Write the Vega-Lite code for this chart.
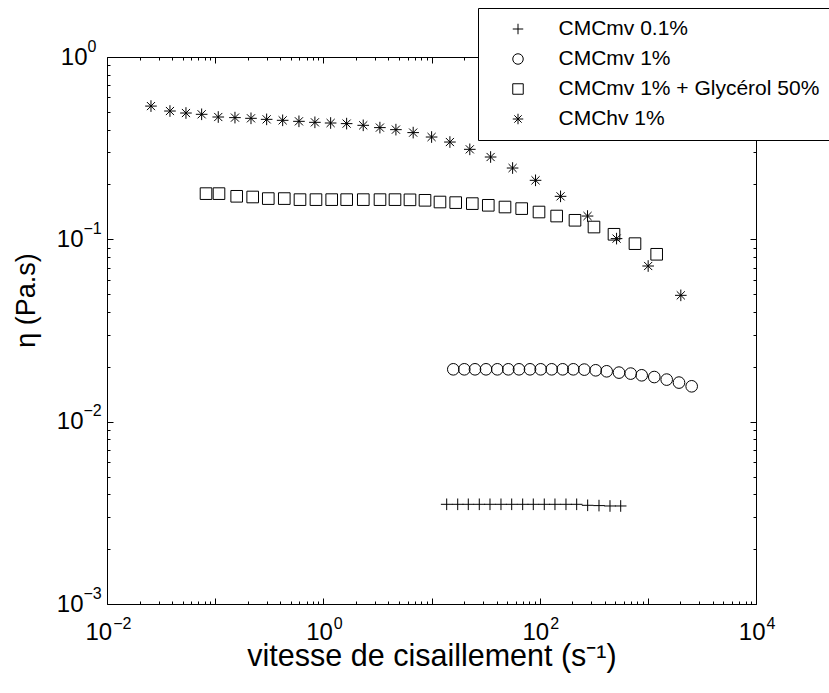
{
"$schema":"https://vega.github.io/schema/vega-lite/v6.json",
"width":649,"height":547,
"autosize":{"type":"none"},
"padding":{"left":107,"top":57,"right":73,"bottom":89},
"background":"white",
"config":{"font":"Liberation Sans","view":{"stroke":"black","strokeWidth":1},
 "axis":{"grid":false,"domain":false,"labelColor":"black","tickColor":"black","tickWidth":1,"titleColor":"black","labelFlush":false,"labelOverlap":false,"labelBound":false,"labelFontWeight":"normal","titleFontWeight":"normal"}},
"data":{"values":[
{"serie":"CMCmv 0.1%","x":13.82,"eta":0.003522},{"serie":"CMCmv 0.1%","x":17.47,"eta":0.003522},{"serie":"CMCmv 0.1%","x":21.88,"eta":0.003522},{"serie":"CMCmv 0.1%","x":27.66,"eta":0.003522},{"serie":"CMCmv 0.1%","x":34.73,"eta":0.003522},{"serie":"CMCmv 0.1%","x":43.89,"eta":0.003522},{"serie":"CMCmv 0.1%","x":55.13,"eta":0.003522},{"serie":"CMCmv 0.1%","x":69.66,"eta":0.003522},{"serie":"CMCmv 0.1%","x":87.3,"eta":0.003522},{"serie":"CMCmv 0.1%","x":110.3,"eta":0.003522},{"serie":"CMCmv 0.1%","x":138.5,"eta":0.003522},{"serie":"CMCmv 0.1%","x":175.1,"eta":0.003522},{"serie":"CMCmv 0.1%","x":219.9,"eta":0.003522},{"serie":"CMCmv 0.1%","x":277.8,"eta":0.003478},{"serie":"CMCmv 0.1%","x":353.6,"eta":0.003465},{"serie":"CMCmv 0.1%","x":446.8,"eta":0.003448},{"serie":"CMCmv 0.1%","x":561.1,"eta":0.003448},
{"serie":"CMCmv 1%","x":15.9,"eta":0.01937},{"serie":"CMCmv 1%","x":20.1,"eta":0.01937},{"serie":"CMCmv 1%","x":25.24,"eta":0.01937},{"serie":"CMCmv 1%","x":31.9,"eta":0.01937},{"serie":"CMCmv 1%","x":40.6,"eta":0.01937},{"serie":"CMCmv 1%","x":51.3,"eta":0.01937},{"serie":"CMCmv 1%","x":64.4,"eta":0.01937},{"serie":"CMCmv 1%","x":81.4,"eta":0.01937},{"serie":"CMCmv 1%","x":102.2,"eta":0.01937},{"serie":"CMCmv 1%","x":129.2,"eta":0.01937},{"serie":"CMCmv 1%","x":163.2,"eta":0.01937},{"serie":"CMCmv 1%","x":204.6,"eta":0.01937},{"serie":"CMCmv 1%","x":258.5,"eta":0.0193},{"serie":"CMCmv 1%","x":329.6,"eta":0.01913},{"serie":"CMCmv 1%","x":416.5,"eta":0.01889},{"serie":"CMCmv 1%","x":541.2,"eta":0.01858},{"serie":"CMCmv 1%","x":694.2,"eta":0.01835},{"serie":"CMCmv 1%","x":877.6,"eta":0.01796},{"serie":"CMCmv 1%","x":1147,"eta":0.01757},{"serie":"CMCmv 1%","x":1494,"eta":0.01701},{"serie":"CMCmv 1%","x":1941,"eta":0.01638},{"serie":"CMCmv 1%","x":2543,"eta":0.01563},
{"serie":"CMCmv 1% + Glycérol 50%","x":0.0823,"eta":0.1781},{"serie":"CMCmv 1% + Glycérol 50%","x":0.1085,"eta":0.1781},{"serie":"CMCmv 1% + Glycérol 50%","x":0.1581,"eta":0.1722},{"serie":"CMCmv 1% + Glycérol 50%","x":0.2223,"eta":0.1707},{"serie":"CMCmv 1% + Glycérol 50%","x":0.3098,"eta":0.1673},{"serie":"CMCmv 1% + Glycérol 50%","x":0.4355,"eta":0.1673},{"serie":"CMCmv 1% + Glycérol 50%","x":0.6084,"eta":0.1651},{"serie":"CMCmv 1% + Glycérol 50%","x":0.855,"eta":0.1651},{"serie":"CMCmv 1% + Glycérol 50%","x":1.195,"eta":0.1651},{"serie":"CMCmv 1% + Glycérol 50%","x":1.644,"eta":0.1651},{"serie":"CMCmv 1% + Glycérol 50%","x":2.341,"eta":0.1651},{"serie":"CMCmv 1% + Glycérol 50%","x":3.341,"eta":0.1651},{"serie":"CMCmv 1% + Glycérol 50%","x":4.598,"eta":0.1651},{"serie":"CMCmv 1% + Glycérol 50%","x":6.324,"eta":0.1647},{"serie":"CMCmv 1% + Glycérol 50%","x":8.708,"eta":0.1637},{"serie":"CMCmv 1% + Glycérol 50%","x":11.98,"eta":0.1602},{"serie":"CMCmv 1% + Glycérol 50%","x":16.74,"eta":0.159},{"serie":"CMCmv 1% + Glycérol 50%","x":23.84,"eta":0.157},{"serie":"CMCmv 1% + Glycérol 50%","x":33.5,"eta":0.1537},{"serie":"CMCmv 1% + Glycérol 50%","x":47.8,"eta":0.1504},{"serie":"CMCmv 1% + Glycérol 50%","x":68.2,"eta":0.1474},{"serie":"CMCmv 1% + Glycérol 50%","x":98.6,"eta":0.1412},{"serie":"CMCmv 1% + Glycérol 50%","x":143.6,"eta":0.1342},{"serie":"CMCmv 1% + Glycérol 50%","x":212.1,"eta":0.1272},{"serie":"CMCmv 1% + Glycérol 50%","x":317.8,"eta":0.1168},{"serie":"CMCmv 1% + Glycérol 50%","x":486.6,"eta":0.1066},{"serie":"CMCmv 1% + Glycérol 50%","x":760.6,"eta":0.0947},{"serie":"CMCmv 1% + Glycérol 50%","x":1207,"eta":0.0828},
{"serie":"CMChv 1%","x":0.0255,"eta":0.538},{"serie":"CMChv 1%","x":0.0382,"eta":0.5055},{"serie":"CMChv 1%","x":0.0537,"eta":0.4929},{"serie":"CMChv 1%","x":0.075,"eta":0.485},{"serie":"CMChv 1%","x":0.1068,"eta":0.4687},{"serie":"CMChv 1%","x":0.1524,"eta":0.4651},{"serie":"CMChv 1%","x":0.2144,"eta":0.461},{"serie":"CMChv 1%","x":0.2992,"eta":0.455},{"serie":"CMChv 1%","x":0.4207,"eta":0.4495},{"serie":"CMChv 1%","x":0.595,"eta":0.4438},{"serie":"CMChv 1%","x":0.8356,"eta":0.4382},{"serie":"CMChv 1%","x":1.168,"eta":0.4345},{"serie":"CMChv 1%","x":1.642,"eta":0.4312},{"serie":"CMChv 1%","x":2.338,"eta":0.422},{"serie":"CMChv 1%","x":3.334,"eta":0.41},{"serie":"CMChv 1%","x":4.688,"eta":0.3996},{"serie":"CMChv 1%","x":6.77,"eta":0.3849},{"serie":"CMChv 1%","x":10.02,"eta":0.364},{"serie":"CMChv 1%","x":14.8,"eta":0.3417},{"serie":"CMChv 1%","x":22.6,"eta":0.3116},{"serie":"CMChv 1%","x":35.2,"eta":0.2828},{"serie":"CMChv 1%","x":56.2,"eta":0.2461},{"serie":"CMChv 1%","x":91.6,"eta":0.2107},{"serie":"CMChv 1%","x":156,"eta":0.1721},{"serie":"CMChv 1%","x":277,"eta":0.1342},{"serie":"CMChv 1%","x":514,"eta":0.1009},{"serie":"CMChv 1%","x":1007,"eta":0.0714},{"serie":"CMChv 1%","x":2018,"eta":0.0493}
]},
"layer":[
{"mark":{"type":"point","filled":false,"color":"black","strokeWidth":1,"opacity":1,"size":135},
 "encoding":{
  "x":{"field":"x","type":"quantitative","scale":{"type":"log","domain":[0.01,10000],"nice":false},
   "axis":{"orient":"bottom","labels":false,"values":[0.01,0.02,0.03,0.04,0.05,0.06,0.07,0.08,0.09,0.1,0.2,0.3,0.4,0.5,0.6,0.7,0.8,0.9,1,2,3,4,5,6,7,8,9,10,20,30,40,50,60,70,80,90,100,200,300,400,500,600,700,800,900,1000,2000,3000,4000,5000,6000,7000,8000,9000,10000],
    "tickSize":{"condition":{"test":"abs(log(datum.value)/LN10 - round(log(datum.value)/LN10)) < 0.001","value":-6},"value":-3},
    "title":"vitesse de cisaillement (s⁻¹)","titleFontSize":30.5,"titleBaseline":"alphabetic","titleY":61}},
  "y":{"field":"eta","type":"quantitative","scale":{"type":"log","domain":[0.001,1],"nice":false},
   "axis":{"orient":"left","labels":false,"values":[0.001,0.002,0.003,0.004,0.005,0.006,0.007,0.008,0.009,0.01,0.02,0.03,0.04,0.05,0.06,0.07,0.08,0.09,0.1,0.2,0.3,0.4,0.5,0.6,0.7,0.8,0.9,1],
    "tickSize":{"condition":{"test":"abs(log(datum.value)/LN10 - round(log(datum.value)/LN10)) < 0.001","value":-6},"value":-3},
    "title":"η (Pa.s)","titleFontSize":27,"titleAngle":-90,"titleBaseline":"alphabetic","titleX":-73,"titleY":243,"titleAlign":"center"}},
  "shape":{"field":"serie","type":"nominal",
   "scale":{"domain":["CMCmv 0.1%","CMCmv 1%","CMCmv 1% + Glycérol 50%","CMChv 1%"],"range":["M-1,0H1M0,-1V1","circle","square","M-1,0H1M0,-1V1M-0.7,-0.7L0.7,0.7M-0.7,0.7L0.7,-0.7"]},
   "legend":{"orient":"none","legendX":371,"legendY":-49,"title":null,"strokeColor":"black","fillColor":"white","padding":10.5,"rowPadding":8,"symbolOffset":19,"labelOffset":30,"labelFontSize":21,"labelLimit":500,"labelFont":"Liberation Sans","labelColor":"black","symbolSize":110,"symbolStrokeWidth":1,"symbolStrokeColor":"black","symbolFillColor":"transparent","cornerRadius":0}}
 }},
{"mark":{"type":"point","opacity":0},
 "encoding":{
  "x":{"field":"x","type":"quantitative","scale":{"type":"log","domain":[0.01,10000],"nice":false},
   "axis":{"orient":"top","labels":false,"title":null,"values":[0.01,0.02,0.03,0.04,0.05,0.06,0.07,0.08,0.09,0.1,0.2,0.3,0.4,0.5,0.6,0.7,0.8,0.9,1,2,3,4,5,6,7,8,9,10,20,30,40,50,60,70,80,90,100,200,300,400,500,600,700,800,900,1000,2000,3000,4000,5000,6000,7000,8000,9000,10000],
    "tickSize":{"condition":{"test":"abs(log(datum.value)/LN10 - round(log(datum.value)/LN10)) < 0.001","value":-6},"value":-3}}},
  "y":{"field":"eta","type":"quantitative","scale":{"type":"log","domain":[0.001,1],"nice":false},
   "axis":{"orient":"right","labels":false,"title":null,"values":[0.001,0.002,0.003,0.004,0.005,0.006,0.007,0.008,0.009,0.01,0.02,0.03,0.04,0.05,0.06,0.07,0.08,0.09,0.1,0.2,0.3,0.4,0.5,0.6,0.7,0.8,0.9,1],
    "tickSize":{"condition":{"test":"abs(log(datum.value)/LN10 - round(log(datum.value)/LN10)) < 0.001","value":-6},"value":-3}}}
 }},
{"mark":{"type":"point","opacity":0},
 "encoding":{
  "x":{"field":"x","type":"quantitative","scale":{"type":"log","domain":[0.01,10000],"nice":false},
   "axis":{"orient":"bottom","title":null,"ticks":false,"tickSize":0,"values":[0.01,1,100,10000],"labelExpr":"'10'","labelFontSize":24,"labelAlign":"right","labelBaseline":"middle","labelPadding":28.5,
    "labelOffset":{"condition":{"test":"datum.value < 1","value":4.7},"value":9}}},
  "y":{"field":"eta","type":"quantitative","scale":{"type":"log","domain":[0.001,1],"nice":false},
   "axis":{"orient":"left","title":null,"ticks":false,"tickSize":0,"values":[0.001,0.01,0.1,1],"labelExpr":"'10'","labelFontSize":24,"labelAlign":"right","labelBaseline":"middle",
    "labelPadding":{"condition":{"test":"datum.value < 1","value":24},"value":20}}}
 }},
{"mark":{"type":"point","opacity":0},
 "encoding":{
  "x":{"field":"x","type":"quantitative","scale":{"type":"log","domain":[0.01,10000],"nice":false},
   "axis":{"orient":"bottom","title":null,"ticks":false,"tickSize":0,"values":[0.01,1,100,10000],"labelExpr":"replace('' + round(log(datum.value)/LN10), '-', '−')","labelFontSize":16,"labelAlign":"left","labelBaseline":"middle","labelPadding":19.5,
    "labelOffset":{"condition":{"test":"datum.value < 1","value":5.7},"value":10}}},
  "y":{"field":"eta","type":"quantitative","scale":{"type":"log","domain":[0.001,1],"nice":false},
   "axis":{"orient":"left","title":null,"ticks":false,"tickSize":0,"values":[0.001,0.01,0.1,1],"labelExpr":"replace('' + round(log(datum.value)/LN10), '-', '−')","labelFontSize":16,"labelAlign":"left","labelBaseline":"middle","labelOffset":-11,
    "labelPadding":{"condition":{"test":"datum.value < 1","value":24},"value":20}}}
 }}
],
"resolve":{"axis":{"x":"independent","y":"independent"}}
}
